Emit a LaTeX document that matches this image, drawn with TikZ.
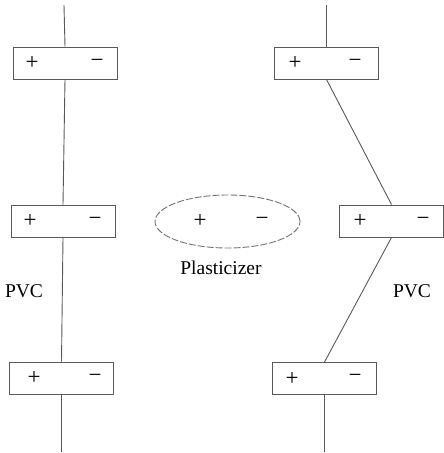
\documentclass[tikz,border=0pt]{standalone}
\usepackage{fontspec}
\usetikzlibrary{shapes.geometric}
\setmainfont{Liberation Serif}
\begin{document}
\begin{tikzpicture}[x=1pt,y=-1pt,
  ion/.style={draw=black!65, line width=0.9pt, minimum width=104pt, minimum height=32pt, inner sep=0pt},
  conn/.style={draw=black!65, line width=0.9pt},
  sign/.style={font=\fontsize{23}{23}\selectfont, inner sep=0pt},
  lbl/.style={font=\fontsize{19.5}{22}\selectfont, inner sep=0pt}]
\useasboundingbox (0,0) rectangle (444,453);
% left chain
\node[ion] (L1) at (65,63) {};
\node[ion] (L2) at (63,221) {};
\node[ion] (L3) at (61.5,378) {};
\coordinate (Ltop) at (64,5);
\coordinate (Lbot) at (61.5,452);
\node[sign] (L1p) at (32,63) {+};
\node[sign] (L1m) at (97,63) {−};
\node[sign] (L2p) at (30,221) {+};
\node[sign] (L2m) at (95,221) {−};
\node[sign] (L3p) at (34,378) {+};
\node[sign] (L3m) at (95,378) {−};
\draw[conn] (Ltop) -- (L1.north);
\draw[conn] (L1.south) -- (L2.north);
\draw[conn] (L2.south) -- (L3.north);
\draw[conn] (L3.south) -- (Lbot);
% right chain
\node[ion] (R1) at (326.5,63) {};
\node[ion] (R2) at (391.5,221) {};
\node[ion] (R3) at (324.5,378.5) {};
\coordinate (Rtop) at (326.5,5);
\coordinate (Rbot) at (324.5,452);
\node[sign] (R1p) at (295,63) {+};
\node[sign] (R1m) at (355,63) {−};
\node[sign] (R2p) at (360,221) {+};
\node[sign] (R2m) at (423,221) {−};
\node[sign] (R3p) at (292,378.5) {+};
\node[sign] (R3m) at (355,378.5) {−};
\draw[conn] (Rtop) -- (R1.north);
\draw[conn] (R1.south) -- (R2.north);
\draw[conn] (R2.south) -- (R3.north);
\draw[conn] (R3.south) -- (Rbot);
% plasticizer
\node[draw=black!55, line width=0.9pt, dash pattern=on 7pt off 2pt, ellipse, minimum width=145pt, minimum height=53pt, inner sep=0pt] (P) at (227.5,221.5) {};
\node[sign] (Pp) at (200,221) {+};
\node[sign] (Pm) at (262,221) {−};
\node[lbl] (Plab) at (221,268) {Plasticizer};
\node[lbl] (PVCL) at (24,291) {PVC};
\node[lbl] (PVCR) at (412,291) {PVC};
\end{tikzpicture}
\end{document}
